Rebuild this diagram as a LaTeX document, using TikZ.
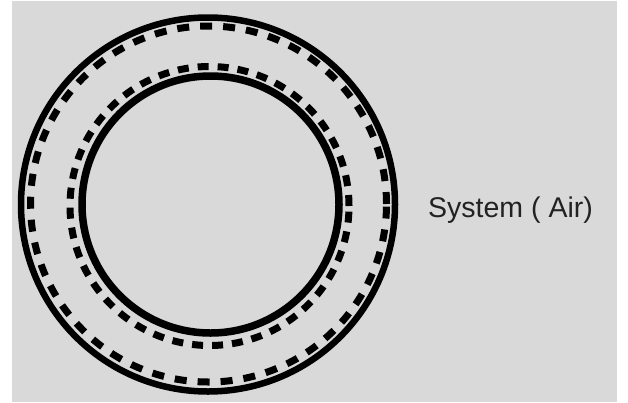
\documentclass[tikz,border=0pt]{standalone}
\usepackage{fontspec}
\setmainfont{Liberation Sans}
\definecolor{bg}{HTML}{D9D9D9}
\definecolor{txt}{HTML}{222222}
\tikzset{
  ring/.style={circle, draw=black, inner sep=0pt, outer sep=0pt},
  outerdash/.style={ring, line width=7pt, dash pattern=on 12pt off 11pt},
  innerdash/.style={ring, line width=7pt, dash pattern=on 11pt off 9pt},
  label/.style={anchor=base west, inner sep=0pt, text=txt, font=\fontsize{28.5}{30}\selectfont}
}
\begin{document}
\begin{tikzpicture}[x=1pt,y=-1pt]
\useasboundingbox (0,0) rectangle (628,402);
\fill[white] (0,0) rectangle (628,402);
\fill[bg] (12,1) rectangle (617,402);
\node[ring, line width=6.5pt, minimum size=374pt] (outersolid) at (208,204.5) {};
\node[outerdash, minimum size=356pt] (outerdashed) at (208.5,204) {};
\node[innerdash, minimum size=279pt] (innerdashed) at (209.5,206) {};
\node[ring, line width=7.5pt, minimum size=257pt] (innersolid) at (210.5,204.5) {};
\node[label] (sys) at (428,217) {System ( Air)};
\end{tikzpicture}
\end{document}
